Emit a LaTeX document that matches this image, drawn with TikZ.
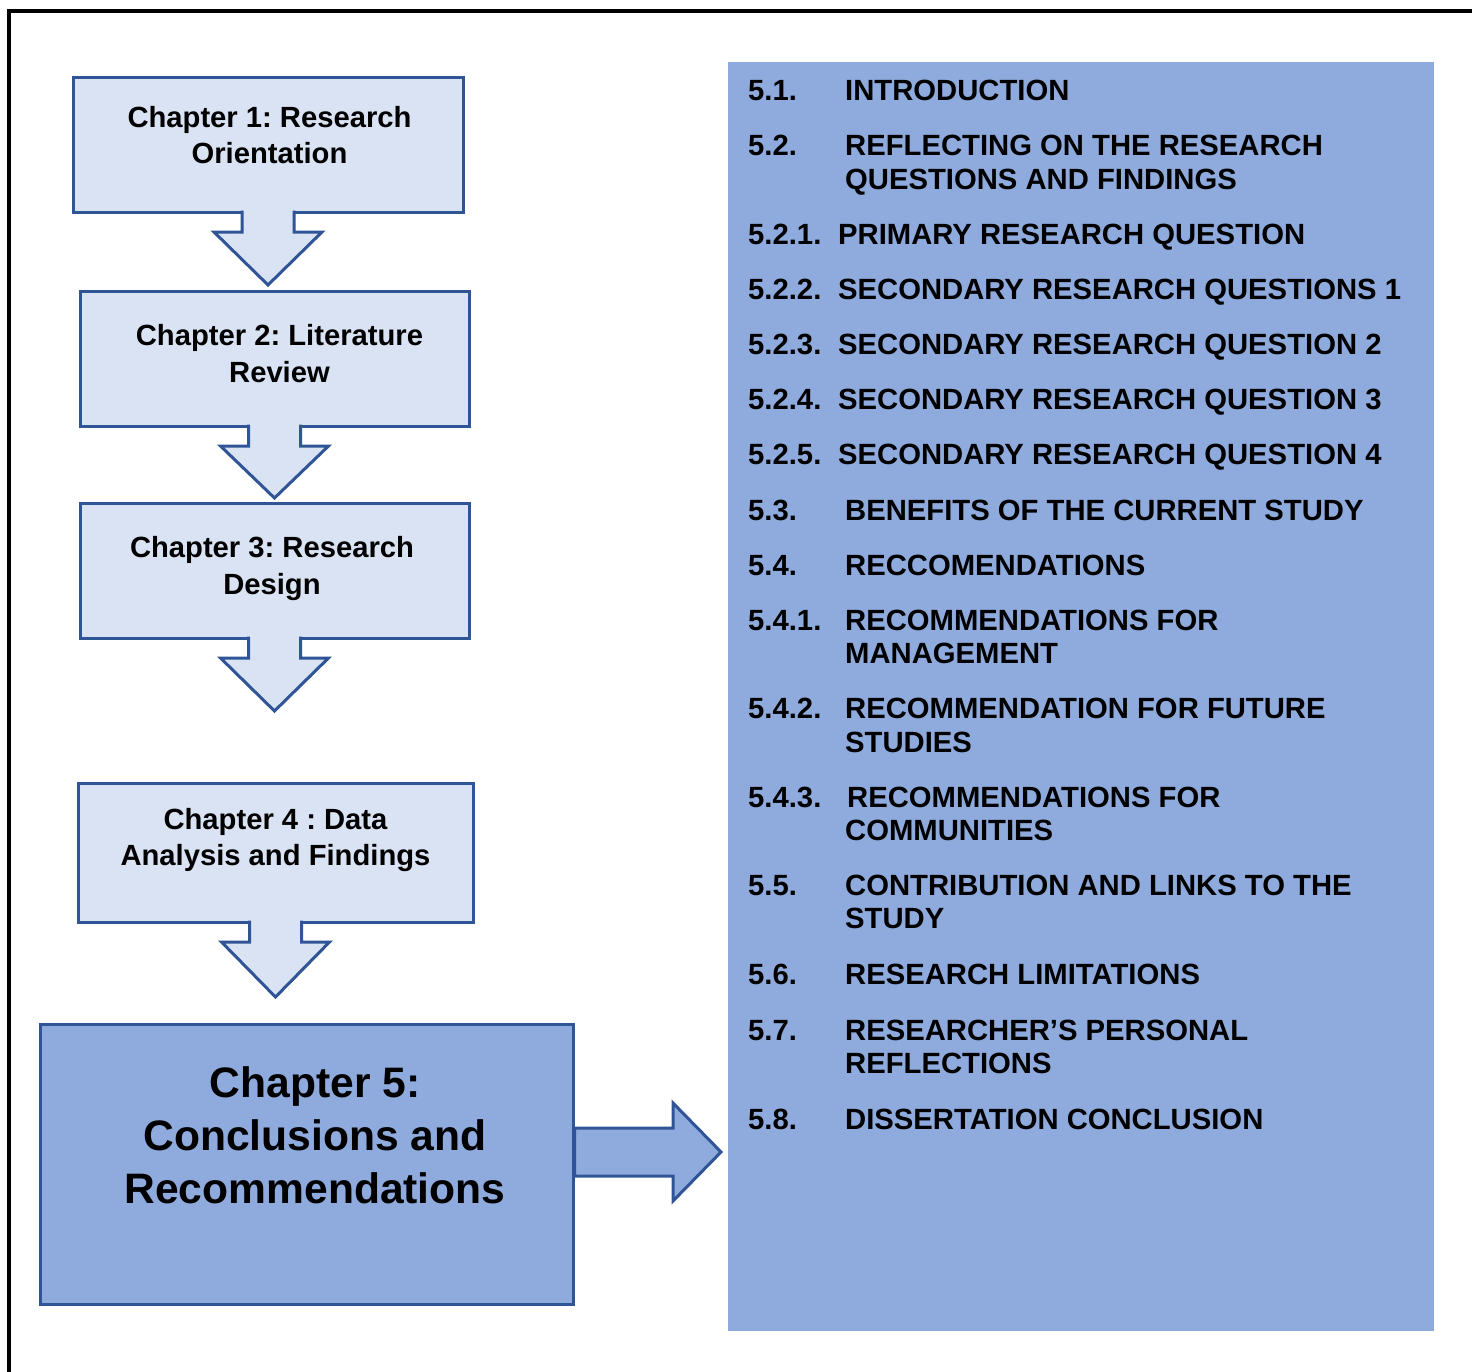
\documentclass[tikz,border=0pt]{standalone}
\usepackage{fontspec}
\setmainfont{Liberation Sans}
\usetikzlibrary{calc}
\definecolor{edgeblue}{HTML}{2F5597}
\definecolor{paleblue}{HTML}{DAE3F3}
\definecolor{midblue}{HTML}{8FAADC}
\frenchspacing

% block arrow hanging below a chapter box, centred on its south anchor
\newcommand{\blockdown}[2]{%
  \fill[paleblue] ($(#1.south)+(-26,-1.5)$) -- ($(#1.south)+(-26,20)$) -- ($(#1.south)+(-54,20)$)
    -- ($(#1.south)+(0,#2)$) -- ($(#1.south)+(54,20)$) -- ($(#1.south)+(26,20)$) -- ($(#1.south)+(26,-1.5)$) -- cycle;
  \draw[flowedge] ($(#1.south)+(-26,-1.5)$) -- ($(#1.south)+(-26,20)$) -- ($(#1.south)+(-54,20)$)
    -- ($(#1.south)+(0,#2)$) -- ($(#1.south)+(54,20)$) -- ($(#1.south)+(26,20)$) -- ($(#1.south)+(26,-1.5)$);
}

\begin{document}
\begin{tikzpicture}[x=1pt,y=-1pt,
  flowedge/.style={draw=edgeblue, line width=3pt, line join=miter},
  chapbox/.style={flowedge, fill=paleblue, outer sep=0pt, inner sep=0pt, anchor=north west},
  chaptext/.style={font=\bfseries\fontsize{29.2}{36}\selectfont, inner sep=0pt, anchor=base},
  bigtext/.style={font=\bfseries\fontsize{42.6}{53}\selectfont, inner sep=0pt, anchor=base},
  itemtext/.style={font=\bfseries\fontsize{29.25}{34}\selectfont, inner sep=0pt, anchor=base west},
  ]
\useasboundingbox (0,0) rectangle (1472,1371);
\clip (0,0) rectangle (1472,1371);

% page frame
\draw[line width=4pt] (9,1400) -- (9,11) -- (1500,11);

% chapter boxes
\node[chapbox, minimum width=390pt, minimum height=135pt] (c1) at (73,77) {};
\node[chapbox, minimum width=389pt, minimum height=135pt] (c2) at (80,291) {};
\node[chapbox, minimum width=389pt, minimum height=135pt] (c3) at (80,503) {};
\node[chapbox, minimum width=395pt, minimum height=139pt] (c4) at (78,783) {};
\node[chapbox, fill=midblue, minimum width=533pt, minimum height=280pt] (c5) at (40,1024) {};

% down arrows between chapters
\blockdown{c1}{73}
\blockdown{c2}{72}
\blockdown{c3}{73}
\blockdown{c4}{75}

% chapter titles
\node[chaptext] (t1a) at (269.5,127.5) {Chapter 1: Research};
\node[chaptext] (t1b) at (269.5,163.5) {Orientation};
\node[chaptext] (t2a) at (279.5,345.5) {Chapter 2: Literature};
\node[chaptext] (t2b) at (279.5,382) {Review};
\node[chaptext] (t3a) at (272,557.5) {Chapter 3: Research};
\node[chaptext] (t3b) at (272,594) {Design};
\node[chaptext] (t4a) at (275.5,829) {Chapter 4 : Data};
\node[chaptext] (t4b) at (275.5,865) {Analysis and Findings};
\node[bigtext] (t5a) at (315,1097) {Chapter 5:};
\node[bigtext] (t5b) at (315,1150) {Conclusions and};
\node[bigtext] (t5c) at (315,1203) {Recommendations};

% contents panel
\node[fill=midblue, anchor=north west, inner sep=0pt, outer sep=0pt,
      minimum width=706pt, minimum height=1269pt] (panel) at (728,62) {};

% arrow from chapter 5 to the contents panel
\coordinate (ra) at ($(c5.north east)+(0,128)$);
\filldraw[flowedge, fill=midblue] ($(ra)+(1.5,-24)$) -- ($(ra)+(100,-24)$) -- ($(ra)+(100,-49)$)
  -- ($(ra)+(148,0)$) -- ($(ra)+(100,49)$) -- ($(ra)+(100,24)$) -- ($(ra)+(1.5,24)$) -- cycle;

% contents entries
\node[itemtext] (n1)  at (748,100) {5.1.};
\node[itemtext] (e1)  at (845,100) {INTRODUCTION};
\node[itemtext] (n2)  at (748,155) {5.2.};
\node[itemtext] (e2a) at (845,155) {REFLECTING ON THE RESEARCH};
\node[itemtext] (e2b) at (845,189) {QUESTIONS AND FINDINGS};
\node[itemtext] (n3)  at (748,244) {5.2.1.};
\node[itemtext] (e3)  at (838,244) {PRIMARY RESEARCH QUESTION};
\node[itemtext] (n4)  at (748,299) {5.2.2.};
\node[itemtext] (e4)  at (838,299) {SECONDARY RESEARCH QUESTIONS 1};
\node[itemtext] (n5)  at (748,354) {5.2.3.};
\node[itemtext] (e5)  at (838,354) {SECONDARY RESEARCH QUESTION 2};
\node[itemtext] (n6)  at (748,409) {5.2.4.};
\node[itemtext] (e6)  at (838,409) {SECONDARY RESEARCH QUESTION 3};
\node[itemtext] (n7)  at (748,464) {5.2.5.};
\node[itemtext] (e7)  at (838,464) {SECONDARY RESEARCH QUESTION 4};
\node[itemtext] (n8)  at (748,520) {5.3.};
\node[itemtext] (e8)  at (845,520) {BENEFITS OF THE CURRENT STUDY};
\node[itemtext] (n9)  at (748,575) {5.4.};
\node[itemtext] (e9)  at (845,575) {RECCOMENDATIONS};
\node[itemtext] (n10) at (748,630) {5.4.1.};
\node[itemtext] (e10a) at (845,630) {RECOMMENDATIONS FOR};
\node[itemtext] (e10b) at (845,663) {MANAGEMENT};
\node[itemtext] (n11) at (748,718) {5.4.2.};
\node[itemtext] (e11a) at (845,718) {RECOMMENDATION FOR FUTURE};
\node[itemtext] (e11b) at (845,752) {STUDIES};
\node[itemtext] (n12) at (748,807) {5.4.3.};
\node[itemtext] (e12a) at (847,807) {RECOMMENDATIONS FOR};
\node[itemtext] (e12b) at (845,840) {COMMUNITIES};
\node[itemtext] (n13) at (748,895) {5.5.};
\node[itemtext] (e13a) at (845,895) {CONTRIBUTION AND LINKS TO THE};
\node[itemtext] (e13b) at (845,928) {STUDY};
\node[itemtext] (n14) at (748,984) {5.6.};
\node[itemtext] (e14) at (845,984) {RESEARCH LIMITATIONS};
\node[itemtext] (n15) at (748,1040) {5.7.};
\node[itemtext] (e15a) at (845,1040) {RESEARCHER’S PERSONAL};
\node[itemtext] (e15b) at (845,1073) {REFLECTIONS};
\node[itemtext] (n16) at (748,1129) {5.8.};
\node[itemtext] (e16) at (845,1129) {DISSERTATION CONCLUSION};
\end{tikzpicture}
\end{document}
